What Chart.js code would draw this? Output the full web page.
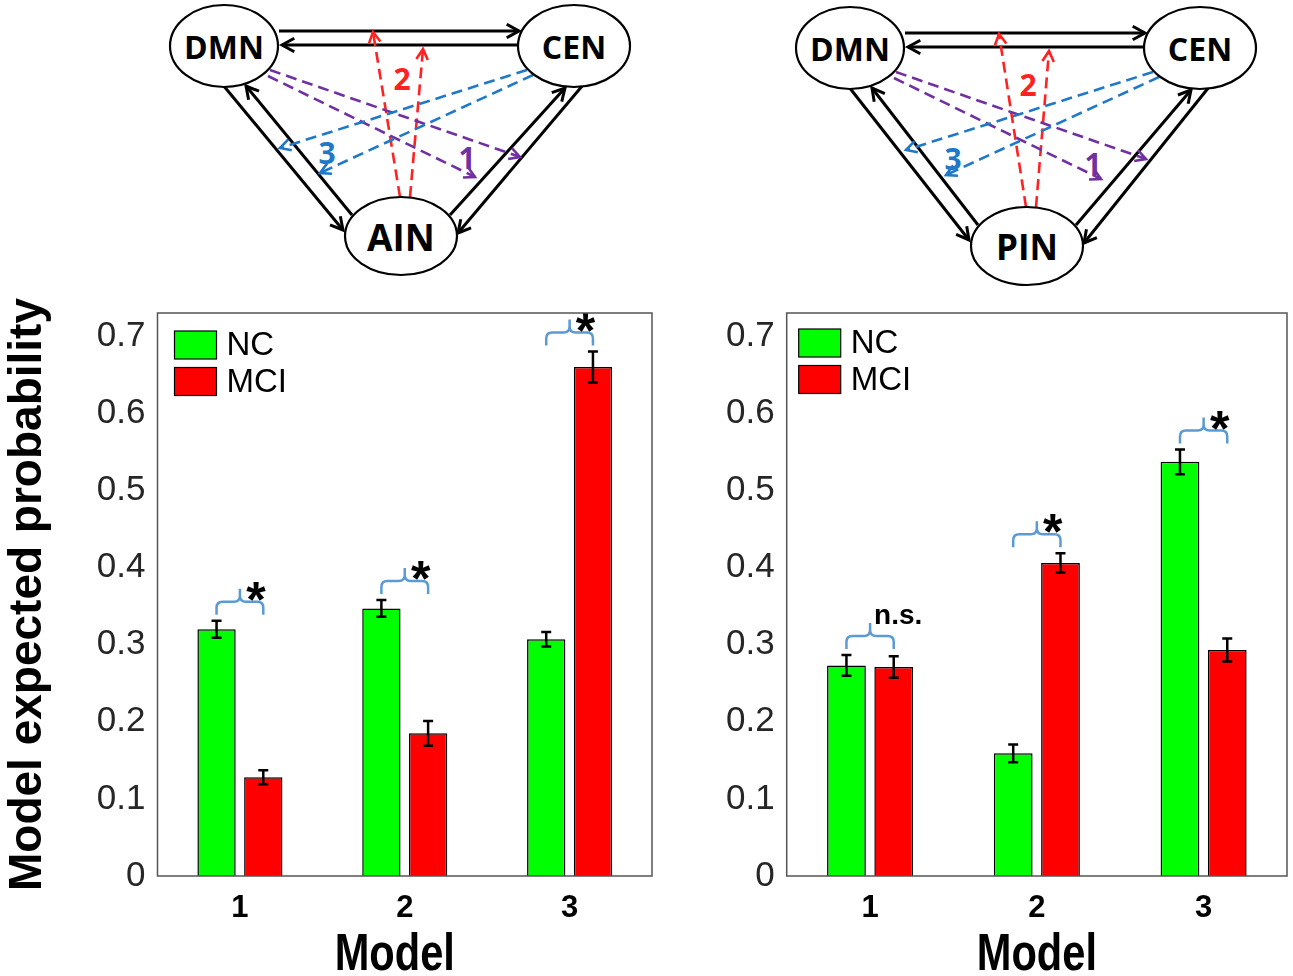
<!DOCTYPE html>
<html>
<head>
<meta charset="utf-8">
<script src="https://cdn.jsdelivr.net/npm/chart.js@4.4.1/dist/chart.umd.min.js"></script>
<style>
  body { margin: 0; background: #fff; }
  #page { position: relative; width: 1293px; height: 976px; overflow: hidden; background: #fff; }
  #net { position: absolute; left: 0; top: 0; }
  #c1 { position: absolute; left: 0; top: 280px; }
  #c2 { position: absolute; left: 665px; top: 280px; }
</style>
</head>
<body>
<div id="page">
  <svg id="net" width="1293" height="290"></svg>
  <canvas id="c1" width="665" height="696"></canvas>
  <canvas id="c2" width="628" height="696"></canvas>
</div>
<script>
// ---- chart data ----
const categories = ['1', '2', '3'];
const yTicks = [0, 0.1, 0.2, 0.3, 0.4, 0.5, 0.6, 0.7];
const yTickLabels = ['0', '0.1', '0.2', '0.3', '0.4', '0.5', '0.6', '0.7'];

// left panel (AIN)
const ainNC = [0.320, 0.347, 0.307];
const ainNCErr = [0.011, 0.011, 0.0095];
const ainMCI = [0.128, 0.185, 0.660];
const ainMCIErr = [0.009, 0.016, 0.020];
const ainSig = ['*', '*', '*'];

// right panel (PIN)
const pinNC = [0.273, 0.159, 0.537];
const pinNCErr = [0.0135, 0.0115, 0.016];
const pinMCI = [0.271, 0.406, 0.293];
const pinMCIErr = [0.014, 0.0125, 0.015];
const pinSig = ['n.s.', '*', '*'];

const SANS = "'Liberation Sans', Arial, Helvetica, sans-serif";

// ---- network diagrams (svg) ----
const NS = 'http://www.w3.org/2000/svg';
const svg = document.getElementById('net');
function el(tag, attrs, text) {
  const e = document.createElementNS(NS, tag);
  for (const k in attrs) e.setAttribute(k, attrs[k]);
  if (text) e.textContent = text;
  svg.appendChild(e);
  return e;
}
function arrow(x1, y1, x2, y2, color, dashed, w, head) {
  el('line', { x1, y1, x2, y2, stroke: color, 'stroke-width': w, 'stroke-dasharray': dashed ? '11 6' : 'none' });
  const a = Math.atan2(y2 - y1, x2 - x1), s = 0.5;
  const pts = [
    [x2 - head * Math.cos(a - s), y2 - head * Math.sin(a - s)],
    [x2, y2],
    [x2 - head * Math.cos(a + s), y2 - head * Math.sin(a + s)]
  ];
  el('polyline', { points: pts.map(p => p.join(',')).join(' '), fill: 'none', stroke: color, 'stroke-width': w });
}

// links: x1, y1, b1, x2, y2, b2, colour, dashed  (b = attached to bottom node)
const links = [
  [279, 31, 0, 519, 31, 0, '#000', false],
  [518, 45, 0, 282, 45, 0, '#000', false],
  [223, 85, 0, 343, 230, 1, '#000', false],
  [352, 215, 1, 246, 86, 0, '#000', false],
  [450, 215, 1, 565, 88, 0, '#000', false],
  [583, 85, 0, 458, 233, 1, '#000', false],
  [400, 197, 1, 373, 32, 0, '#ff2222', true],
  [410, 197, 1, 423, 49, 0, '#ff2222', true],
  [270, 70, 0, 520, 157, 0, '#7030a0', true],
  [268, 76, 0, 475, 177, 0, '#7030a0', true],
  [527, 70, 0, 280, 148, 0, '#1f78c8', true],
  [533, 75, 0, 320, 173, 0, '#1f78c8', true]
];
const linkLabels = [['2', 402, 78, '#ff2222'], ['1', 467, 157, '#7030a0'], ['3', 327, 152, '#1f78c8']];

function drawNet(dx, dy, by, bottomName, bottomSize) {
  links.forEach(l => {
    const [x1, y1, b1, x2, y2, b2, c, d] = l;
    arrow(x1 + dx, y1 + dy + b1 * by, x2 + dx, y2 + dy + b2 * by, c, d, d ? 2.6 : 3, d ? 12 : 14);
  });
  const nodes = [['DMN', 224, 46, 54, 41, 32], ['CEN', 574, 46, 56, 41, 32], [bottomName, 401, 236 + by, 56, 39, bottomSize]];
  nodes.forEach(n => {
    el('ellipse', { cx: n[1] + dx, cy: n[2] + dy, rx: n[3], ry: n[4], fill: '#fff', stroke: '#000', 'stroke-width': 2.2 });
    el('text', { x: n[1] + dx, y: n[2] + dy, 'text-anchor': 'middle', 'dominant-baseline': 'central',
      'font-family': "'Open Sans', sans-serif", 'font-weight': 700, 'font-size': n[5], fill: '#000' }, n[0]);
  });
  linkLabels.forEach(t => {
    el('text', { x: t[1] + dx, y: t[2] + dy + by / 2, 'text-anchor': 'middle', 'dominant-baseline': 'central',
      'font-family': "'Open Sans', sans-serif", 'font-weight': 700, 'font-size': 30, fill: t[3] }, t[0]);
  });
}
drawNet(0, 0, 0, 'AIN', 37);
drawNet(626, 2, 8, 'PIN', 35);

// ---- error bars, significance braces, box, legend, x title ----
function extras(errs, sig, o) {
  return {
    id: 'extras',
    afterDatasetsDraw(chart) {
      const { ctx, chartArea: a, scales: { y } } = chart;
      const ds = chart.data.datasets;
      ctx.save();
      // error bars
      ds.forEach((d, di) => {
        chart.getDatasetMeta(di).data.forEach((bar, i) => {
          const yt = y.getPixelForValue(d.data[i] + errs[di][i]);
          const yb = y.getPixelForValue(d.data[i] - errs[di][i]);
          ctx.strokeStyle = '#000';
          ctx.lineWidth = 2.5;
          ctx.beginPath();
          ctx.moveTo(bar.x, yt); ctx.lineTo(bar.x, yb);
          ctx.moveTo(bar.x - 5, yt); ctx.lineTo(bar.x + 5, yt);
          ctx.moveTo(bar.x - 5, yb); ctx.lineTo(bar.x + 5, yb);
          ctx.stroke();
        });
      });
      // braces
      const m0 = chart.getDatasetMeta(0).data, m1 = chart.getDatasetMeta(1).data;
      categories.forEach((c, i) => {
        const top = Math.min(y.getPixelForValue(ds[0].data[i] + errs[0][i]), y.getPixelForValue(ds[1].data[i] + errs[1][i]));
        const x1 = m0[i].x, x2 = m1[i].x, xm = (x1 + x2) / 2, r = 6;
        const yEnd = top - 6, yH = yEnd - 13, yP = yH - 13;
        ctx.strokeStyle = '#5b9bd5';
        ctx.lineWidth = 2.5;
        ctx.beginPath();
        ctx.moveTo(x1, yEnd); ctx.lineTo(x1, yH + r);
        ctx.quadraticCurveTo(x1, yH, x1 + r, yH); ctx.lineTo(xm - r, yH);
        ctx.quadraticCurveTo(xm, yH, xm, yH - r); ctx.lineTo(xm, yP);
        ctx.moveTo(xm, yH - r);
        ctx.quadraticCurveTo(xm, yH, xm + r, yH); ctx.lineTo(x2 - r, yH);
        ctx.quadraticCurveTo(x2, yH, x2, yH + r); ctx.lineTo(x2, yEnd);
        ctx.stroke();
        ctx.fillStyle = '#000';
        if (sig[i] === '*') {
          ctx.font = 'bold 50px ' + SANS;
          ctx.textAlign = 'center';
          ctx.textBaseline = 'alphabetic';
          ctx.fillText('*', xm + 16, yP - 1 + 0.58 * 50);
        } else {
          ctx.font = 'bold 28px ' + SANS;
          ctx.textAlign = 'left';
          ctx.textBaseline = 'middle';
          ctx.fillText(sig[i], xm + 4, yP - 7);
        }
      });
      // box
      ctx.strokeStyle = '#555';
      ctx.lineWidth = 1.5;
      ctx.strokeRect(a.left, a.top, a.right - a.left, a.bottom - a.top);
      // legend
      ds.forEach((d, di) => {
        const sx = a.left + o.legend[0], sy = a.top + o.legend[1] + di * 36.5;
        ctx.fillStyle = d.backgroundColor;
        ctx.fillRect(sx, sy, 42, 28);
        ctx.strokeStyle = '#000';
        ctx.lineWidth = 1.2;
        ctx.strokeRect(sx, sy, 42, 28);
        ctx.fillStyle = '#000';
        ctx.font = '33px ' + SANS;
        ctx.textAlign = 'left';
        ctx.textBaseline = 'middle';
        ctx.fillText(d.label, sx + 52, sy + 15);
      });
      // x axis title, condensed
      ctx.fillStyle = '#000';
      ctx.font = 'bold 52px ' + SANS;
      ctx.textAlign = 'center';
      ctx.textBaseline = 'alphabetic';
      ctx.translate((a.left + a.right) / 2 + o.titleShift, a.bottom + 94);
      ctx.scale(0.8, 1);
      ctx.fillText('Model', 0, 0);
      ctx.restore();
    }
  };
}

function makeChart(id, nc, mci, errs, sig, o) {
  return new Chart(document.getElementById(id), {
    type: 'bar',
    data: {
      labels: categories,
      datasets: [
        { label: 'NC', data: nc, backgroundColor: '#00ff00', borderColor: '#000', borderWidth: 1.5 },
        { label: 'MCI', data: mci, backgroundColor: '#ff0000', borderColor: '#000', borderWidth: 1.5 }
      ]
    },
    options: {
      responsive: false,
      animation: false,
      datasets: { bar: { categoryPercentage: 0.567, barPercentage: 0.82 } },
      layout: { padding: o.padding },
      plugins: { legend: { display: false }, tooltip: { enabled: false } },
      scales: {
        x: {
          grid: { display: false, drawTicks: false },
          border: { display: false },
          ticks: { color: '#000', padding: 14, font: { family: SANS, weight: 'bold', size: 31 } },
          afterFit: s => { s.height = 100; }
        },
        y: {
          min: 0,
          max: 0.73,
          grid: { display: false, drawTicks: false },
          border: { display: false },
          afterBuildTicks: s => { s.ticks = yTicks.map(v => ({ value: v })); },
          ticks: { color: '#262626', padding: 12, font: { family: SANS, size: 35 },
            callback: (v, i) => yTickLabels[i] },
          title: o.yTitle,
          afterFit: s => { s.width = o.yWidth; }
        }
      }
    },
    plugins: [extras(errs, sig, o)]
  });
}

makeChart('c1', ainNC, ainMCI, [ainNCErr, ainMCIErr], ainSig, {
  padding: { top: 27, right: 13, left: 0, bottom: 0 },
  yWidth: 157.5,
  legend: [17, 18],
  titleShift: -10,
  yTitle: { display: true, text: 'Model expected probability', color: '#000',
    padding: { top: 5, bottom: 0 }, font: { family: SANS, weight: 'bold', size: 46, lineHeight: 1 } }
});
makeChart('c2', pinNC, pinMCI, [pinNCErr, pinMCIErr], pinSig, {
  padding: { top: 29, right: 6, left: 0, bottom: 0 },
  yWidth: 121.7,
  legend: [12, 16],
  titleShift: 0,
  yTitle: { display: false }
});
</script>
</body>
</html>
